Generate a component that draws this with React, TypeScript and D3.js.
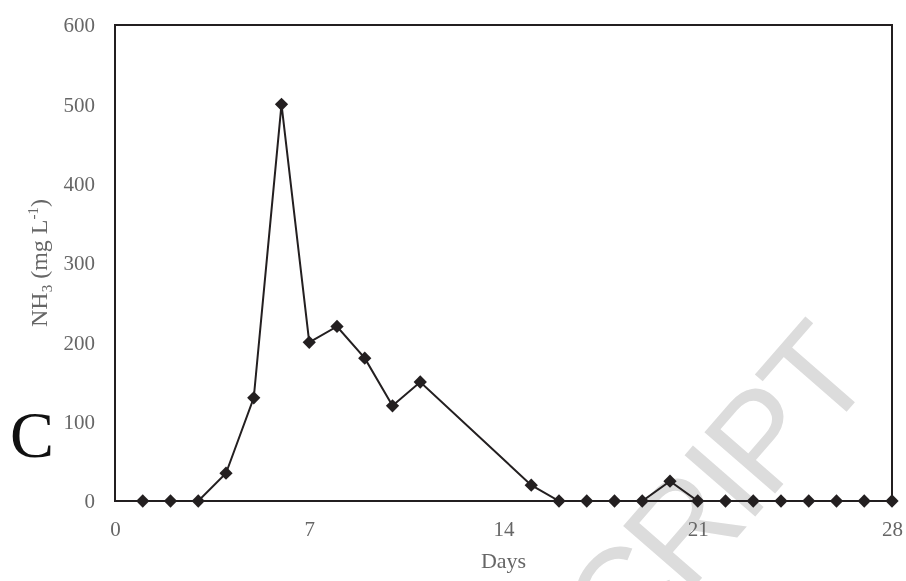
import React, { useEffect, useRef } from "react";
import * as d3 from "d3";

// NH3 concentration per day (mg/L)
const days = [1, 2, 3, 4, 5, 6, 7, 8, 9, 10, 11, 15, 16, 17, 18, 19, 20, 21, 22, 23, 24, 25, 26, 27, 28];
const nh3 = [0, 0, 0, 35, 130, 500, 200, 220, 180, 120, 150, 20, 0, 0, 0, 0, 25, 0, 0, 0, 0, 0, 0, 0, 0];
const xTicks = [0, 7, 14, 21, 28];
const yTicks = [0, 100, 200, 300, 400, 500, 600];

const W = 906,
  H = 581;
const margin = { top: 25, right: 14, bottom: 80, left: 115 };

export default function App() {
  const ref = useRef<SVGSVGElement>(null);

  useEffect(() => {
    const svg = d3.select(ref.current);
    svg.selectAll("*").remove();

    const w = W - margin.left - margin.right;
    const h = H - margin.top - margin.bottom;
    const font = "'Liberation Serif', 'Times New Roman', serif";

    // watermark
    svg
      .append("text")
      .attr("transform", "translate(874,380) rotate(-49)")
      .attr("text-anchor", "end")
      .attr("font-family", "'Liberation Sans', Arial, sans-serif")
      .attr("font-size", 136)
      .attr("letter-spacing", -6)
      .attr("fill", "#dcdcdc")
      .text("MANUSCRIPT");

    const g = svg.append("g").attr("transform", `translate(${margin.left},${margin.top})`);

    const x = d3.scaleLinear().domain([0, 28]).range([0, w]);
    const y = d3.scaleLinear().domain([0, 600]).range([h, 0]);

    // frame
    g.append("rect")
      .attr("x", 0)
      .attr("y", 0)
      .attr("width", w)
      .attr("height", h)
      .attr("fill", "none")
      .attr("stroke", "#231f20")
      .attr("stroke-width", 2);

    const yAxis = g
      .append("g")
      .call(d3.axisLeft(y).tickValues(yTicks).tickSize(0).tickPadding(20));
    yAxis.select(".domain").remove();
    yAxis
      .selectAll("text")
      .attr("font-family", font)
      .attr("font-size", 21)
      .attr("fill", "#666");

    const xAxis = g
      .append("g")
      .attr("transform", `translate(0,${h})`)
      .call(d3.axisBottom(x).tickValues(xTicks).tickSize(0).tickPadding(20));
    xAxis.select(".domain").remove();
    xAxis
      .selectAll("text")
      .attr("font-family", font)
      .attr("font-size", 21)
      .attr("fill", "#666");

    const data = days.map((d, i) => ({ d, v: nh3[i] }));

    const line = d3
      .line<{ d: number; v: number }>()
      .x((p) => x(p.d))
      .y((p) => y(p.v));

    g.append("path")
      .datum(data)
      .attr("d", line)
      .attr("fill", "none")
      .attr("stroke", "#231f20")
      .attr("stroke-width", 2);

    const sym = d3.symbol().type(d3.symbolSquare).size(88);
    g.selectAll(".pt")
      .data(data)
      .join("path")
      .attr("class", "pt")
      .attr("d", sym)
      .attr("transform", (p) => `translate(${x(p.d)},${y(p.v)}) rotate(45)`)
      .attr("fill", "#231f20");

    // axis titles
    svg
      .append("text")
      .attr("x", margin.left + w / 2)
      .attr("y", 568)
      .attr("text-anchor", "middle")
      .attr("font-family", font)
      .attr("font-size", 22)
      .attr("fill", "#666")
      .text("Days");

    const yt = svg
      .append("text")
      .attr("transform", `translate(47,${margin.top + h / 2}) rotate(-90)`)
      .attr("text-anchor", "middle")
      .attr("font-family", font)
      .attr("font-size", 24)
      .attr("fill", "#666");
    yt.append("tspan").text("NH");
    yt.append("tspan").attr("font-size", 15).attr("dy", 5).text("3");
    yt.append("tspan").attr("dy", -5).text(" (mg L");
    yt.append("tspan").attr("font-size", 15).attr("dy", -9).text("-1");
    yt.append("tspan").attr("dy", 9).text(")");

    // panel letter
    svg
      .append("text")
      .attr("x", 10)
      .attr("y", 457)
      .attr("font-family", font)
      .attr("font-size", 66)
      .attr("fill", "#111")
      .text("C");
  }, []);

  return (
    <svg
      ref={ref}
      width={W}
      height={H}
      style={{ position: "fixed", left: 0, top: 0, display: "block" }}
    />
  );
}
